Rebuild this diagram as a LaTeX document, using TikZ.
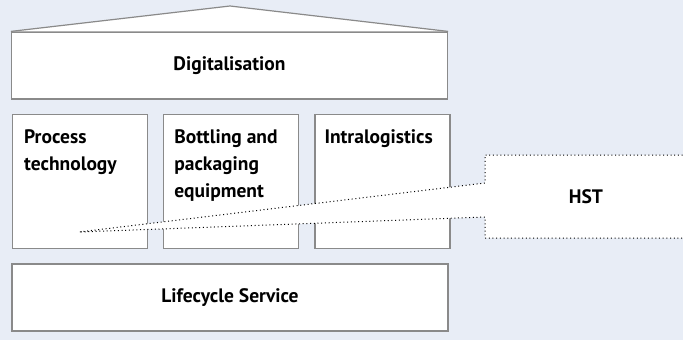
\documentclass[tikz,border=0pt]{standalone}
\usepackage{fontspec}
\setmainfont{PT Sans}
\usetikzlibrary{positioning}

\definecolor{bgblue}{RGB}{232,237,246}
\definecolor{boxgray}{RGB}{138,138,138}

\tikzset{
    boxline/.style={draw=boxgray,line width=1.2pt,fill=white},
    widebox/.style={boxline,minimum width=436pt,minimum height=67pt,inner sep=0pt,font=\bfseries\fontsize{19.5}{24}\selectfont},
    pillar/.style={boxline,minimum width=135pt,minimum height=134pt,inner sep=0pt},
    pillartext/.style={anchor=north west,align=left,inner sep=0pt,font=\bfseries\fontsize{19.5}{26.8}\selectfont},
    calloutline/.style={draw=black,line width=1pt,dash pattern=on 1pt off 2.7pt},
}

\begin{document}
\begin{tikzpicture}[x=1pt,y=-1pt]

    % background
    \fill[bgblue] (0,0) rectangle (683,340);
    \useasboundingbox (0,0) rectangle (683,340);

    % roof
    \coordinate (apex) at (230,6);
    \node[widebox] (digi) at (229.5,65.5) {Digitalisation};
    \draw[boxline] (digi.north west) -- (apex) -- (digi.north east); % roof

    % pillars
    \node[pillar] (proc) at (80,181.5) {};
    \node[pillar,right=15pt of proc] (bott) {};
    \node[pillar,right=15pt of bott] (intra) {};
    \node[pillartext] at ([shift={(12,16)}]proc.north west) {Process\\technology};
    \node[pillartext] at ([shift={(11,15.5)}]bott.north west) {Bottling and\\packaging\\equipment};
    \node[pillartext] at ([shift={(10,16)}]intra.north west) {Intralogistics};

    % base
    \node[widebox] (life) at (230,297.5) {Lifecycle Service};

    % callout
    \coordinate (tip) at (79,232);
    \coordinate (hst-nw) at (485,155);
    \coordinate (hst-ne) at (690,155);
    \coordinate (hst-sw) at (485,238);
    \coordinate (hst-se) at (690,238);
    \coordinate (gap-n) at (485,183);
    \coordinate (gap-s) at (485,217);
    \fill[white] (tip) -- (gap-n) -- (hst-nw) -- (hst-ne) -- (hst-se) -- (hst-sw) -- (gap-s) -- cycle;
    \draw[calloutline] (hst-ne) -- (hst-nw) -- (gap-n) -- (tip) -- (gap-s) -- (hst-sw) -- (hst-se);
    \node[font=\bfseries\fontsize{19.5}{24}\selectfont] (hst) at (586,197) {HST};

\end{tikzpicture}
\end{document}
